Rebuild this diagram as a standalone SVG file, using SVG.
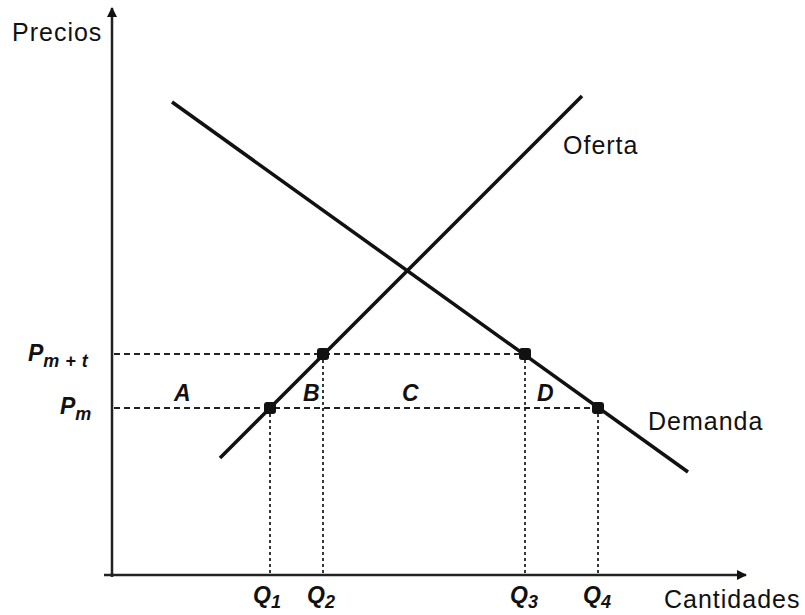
<svg xmlns="http://www.w3.org/2000/svg" width="805" height="615" viewBox="0 0 805 615">
<defs>
<style>
.t{font-family:"Liberation Sans",Arial,sans-serif;font-size:25px;letter-spacing:1px;fill:#111}
.i{font-family:"Liberation Sans",Arial,sans-serif;font-size:23px;font-style:italic;font-weight:bold;fill:#111}
.s{font-size:18px;letter-spacing:0.5px}
.ax{stroke:#222;stroke-width:2.5;fill:none}
.cv{stroke:#111;stroke-width:3.5;fill:none}
.dh{stroke:#222;stroke-width:1.8;stroke-dasharray:6,4;fill:none}
.dv{stroke:#222;stroke-width:1.8;stroke-dasharray:3,3;fill:none}
.pt{fill:#111}
</style>
<marker id="ar" markerWidth="10" markerHeight="10" refX="9" refY="5" orient="auto" markerUnits="userSpaceOnUse">
<path d="M0,0 L10,5 L0,10 Z" fill="#111"/>
</marker>
</defs>
<rect width="805" height="615" fill="#fff"/>
<g id="axes">
<line class="ax" x1="112" y1="577" x2="112" y2="8" marker-end="url(#ar)"/>
<line class="ax" x1="104" y1="575" x2="746" y2="575" marker-end="url(#ar)"/>
<text class="t" x="12" y="41">Precios</text>
<text class="t" x="664" y="608">Cantidades</text>
</g>
<g id="connectors">
<line class="dh" x1="114" y1="354" x2="525" y2="354"/>
<line class="dh" x1="114" y1="408" x2="598" y2="408"/>
<line class="dv" x1="270" y1="408" x2="270" y2="575"/>
<line class="dv" x1="323" y1="354" x2="323" y2="575"/>
<line class="dv" x1="525" y1="354" x2="525" y2="575"/>
<line class="dv" x1="598" y1="408" x2="598" y2="575"/>
</g>
<g id="oferta">
<line class="cv" x1="220" y1="458" x2="582" y2="96"/>
<text class="t" x="563" y="154">Oferta</text>
</g>
<g id="demanda">
<line class="cv" x1="172" y1="102" x2="688" y2="472"/>
<text class="t" x="648" y="430">Demanda</text>
</g>
<g id="points">
<rect class="pt" x="264" y="402" width="12" height="12" rx="3"/>
<rect class="pt" x="317" y="348" width="12" height="12" rx="3"/>
<rect class="pt" x="519" y="348" width="12" height="12" rx="3"/>
<rect class="pt" x="592" y="402" width="12" height="12" rx="3"/>
</g>
<g id="labels">
<text class="i" x="28" y="361">P<tspan class="s" dy="6">m + t</tspan></text>
<text class="i" x="60" y="414">P<tspan class="s" dy="6">m</tspan></text>
<text class="i" x="174" y="401">A</text>
<text class="i" x="303" y="401">B</text>
<text class="i" x="402" y="401">C</text>
<text class="i" x="537" y="401">D</text>
<text class="i" x="253" y="603">Q<tspan class="s" dy="5">1</tspan></text>
<text class="i" x="307" y="603">Q<tspan class="s" dy="5">2</tspan></text>
<text class="i" x="510" y="603">Q<tspan class="s" dy="5">3</tspan></text>
<text class="i" x="583" y="603">Q<tspan class="s" dy="5">4</tspan></text>
</g>
</svg>
